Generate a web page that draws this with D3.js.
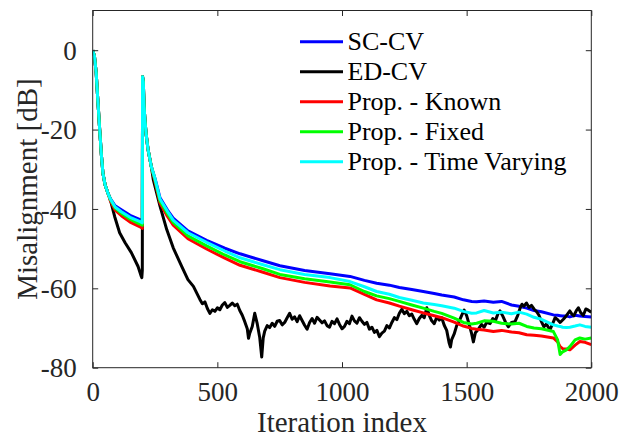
<!DOCTYPE html>
<html>
<head>
<meta charset="utf-8">
<script src="https://cdn.jsdelivr.net/npm/d3@7/dist/d3.min.js"></script>
<style>
  html, body { margin: 0; padding: 0; background: #fff; }
  svg { display: block; }
  svg text { font-family: "Liberation Serif", "Times New Roman", Times, serif !important; }
</style>
</head>
<body>
<svg id="chart" width="634" height="439"></svg>
<script>
// ---------------- data ----------------
const seriesNames = ["SC-CV", "ED-CV", "Prop. - Known", "Prop. - Fixed", "Prop. - Time Varying"];
const xTicks = [0, 500, 1000, 1500, 2000];
const yTicks = [-80, -60, -40, -20, 0];

const colIter = [0,7,14,20,25,28,35,41,50,61,70,90,115,150,190,199,200,203,206,210,215,222,235,250,270,300,323,382,457,530,591,680,751,850,952,1032,1090,1139,1190,1230,1280,1326,1370,1400,1450,1487,1520,1540,1570,1607,1640,1680,1710,1741,1770,1800,1848,1865,1875,1885,1900,1914,1935,1954,1975,2000];

const scCV = [0,-1.5,-5.7,-12,-17,-20,-26.5,-31,-34,-36,-37.3,-39.2,-40.2,-41.6,-42.7,-43,-6.7,-8,-14,-18,-21.5,-25,-29.3,-32.3,-37.2,-40.3,-42.3,-45.5,-47.9,-49.9,-51.3,-53,-54.3,-55.5,-56.3,-57,-58,-58.7,-59.2,-59.8,-60.3,-60.8,-61.3,-61.7,-62.2,-62.9,-63.3,-63.4,-63.2,-63.5,-63.3,-64.2,-64.5,-65,-65.6,-65.9,-66.7,-66.8,-66.9,-67,-67,-67.2,-66.8,-67,-67.1,-67.2];

const propTV = [0,-1.5,-5.7,-12,-17,-20,-26.5,-31,-34,-36,-37.4,-39.5,-40.7,-42.1,-43.2,-43.5,-6.7,-8,-14,-18,-21.5,-25,-29.3,-32.4,-37.5,-40.6,-42.8,-46,-48.4,-50.6,-52.3,-54,-55.3,-56.5,-57.3,-58.3,-59.6,-60.8,-61.5,-62.3,-63,-63.7,-64.1,-64.4,-65,-65.8,-66.3,-66.2,-65.6,-66.2,-66,-66.4,-66,-66.5,-67.3,-67.8,-69.2,-69.5,-69.6,-69.8,-69.9,-69.8,-69.5,-69.2,-69.6,-69.8];

const propFixed = [0,-1.5,-5.7,-12,-17,-20,-26.5,-31,-34,-36,-37.5,-39.8,-41.1,-42.6,-43.8,-44.1,-6.7,-8,-14,-18,-21.5,-25,-29.3,-32.7,-38,-41.2,-43.4,-46.8,-49.3,-51.6,-53.3,-55,-56.5,-57.6,-58.4,-59.1,-60.8,-61.9,-62.6,-63.3,-64.2,-65,-65.8,-66.3,-67.5,-68.6,-69,-68.8,-68.2,-68.3,-68.8,-69,-68.8,-69.6,-70,-70.2,-70.9,-73,-76.7,-76,-75.5,-74.7,-73,-72.5,-72.8,-72.5];

const propKnown = [0,-1.5,-5.7,-12,-17,-20,-26.5,-31,-34,-36,-37.8,-40.3,-41.7,-43.3,-44.5,-44.9,-6.7,-8,-14,-18,-21.5,-25,-29.3,-33.1,-38.5,-41.9,-44.1,-47.5,-50.1,-52.4,-54.2,-55.9,-57.3,-58.5,-59.4,-59.9,-61.5,-62.9,-63.7,-64.5,-65.4,-66.2,-66.9,-67.4,-68.5,-69.5,-70.1,-70.3,-70.5,-70.9,-70.6,-71,-71.2,-71.7,-71.8,-72,-72.5,-73.5,-74.7,-75.2,-75.3,-75.5,-74.3,-73.4,-73.6,-74.2];

const edIter = [0,7,14,20,25,28,35,41,50,61,68,88,108,130,155,182,195,197,199,200,203,206,210,215,222,235,243,270,297,323,357,382,404,
  430,440,450,460,470,480,490,500,510,520,530,540,550,560,570,580,590,600,610,620,625,630,640,650,660,670,678,684,690,700,
  710,720,730,740,750,760,770,780,790,800,810,820,830,840,850,860,870,880,890,900,910,920,930,940,950,960,970,980,990,1000,
  1010,1020,1030,1040,1050,1060,1070,1080,1090,1100,1110,1120,1130,1140,1150,1160,1170,1180,1190,1200,1210,1220,1230,1240,1250,
  1260,1270,1280,1290,1300,1310,1320,1330,1340,1350,1360,1370,1380,1390,1400,1410,1420,1430,1435,1440,1450,1460,1470,1480,1490,
  1500,1510,1520,1527,1535,1547,1560,1570,1580,1594,1605,1615,1625,1634,1645,1655,1667,1680,1694,1705,1715,1722,1730,1740,1750,
  1760,1770,1781,1790,1800,1810,1820,1834,1845,1855,1865,1875,1888,1900,1914,1922,1930,1940,1948,1958,1968,1978,1988,2000];

const edCV = [0,-1.5,-5.7,-12,-17,-20,-26.5,-31,-34,-36,-37,-41.9,-46,-48.5,-51,-54.5,-57,-57.3,-55.5,-6.7,-8,-14,-18,-21.5,-25,-29.3,-32.6,-39.3,-45.2,-49.8,-54.5,-57.8,-59.5,
  -62.8,-63.9,-63.4,-65.1,-66.3,-65.4,-65.8,-64.9,-65.4,-64.2,-63.6,-64.8,-64.3,-63.7,-64.4,-64.0,-65.6,-66.8,-68.4,-70.2,-72.6,-71.3,-69.6,-66.3,-68.9,-72.4,-77.3,-72.5,-70.8,-69.4,
  -69.9,-68.8,-69.6,-68.3,-68.1,-69.2,-68.6,-67.4,-66.3,-67.8,-67.2,-68.4,-66.9,-68.1,-69.3,-70.3,-68.6,-67.6,-68.8,-67.3,-68.0,-68.7,-68.2,-69.4,-69.8,-68.3,-68.9,-67.7,-69.1,-70.2,
  -69.6,-68.3,-68.9,-67.0,-68.2,-68.8,-67.4,-68.3,-69.1,-68.6,-70.3,-69.8,-71.1,-70.6,-72.2,-71.3,-70.8,-69.4,-70.0,-68.6,-67.4,-67.9,-66.3,-65.3,-66.4,
  -65.8,-66.9,-66.5,-67.8,-68.9,-67.6,-66.8,-67.4,-64.9,-66.8,-68.2,-68.9,-67.3,-68.0,-67.4,-69.3,-70.6,-73.8,-74.8,-72.9,-71.5,-69.4,-68.3,-66.8,-65.5,
  -66.9,-69.1,-71.4,-73.5,-71.2,-70.3,-69.1,-69.8,-68.6,-68.9,-67.6,-68.2,-66.5,-65.7,-67.0,-68.4,-69.7,-68.6,-68.4,-66.8,-64.9,-64.0,-64.5,-63.7,-64.8,
  -64.3,-65.2,-65.9,-66.8,-68.4,-69.7,-69.0,-70.5,-68.9,-67.4,-67.9,-68.6,-67.8,-66.9,-65.7,-66.5,-66.9,-65.6,-64.9,-66.2,-66.8,-65.2,-65.5,-66.0];

const seriesColors = ["#0000ff", "#000000", "#ff0000", "#00ff00", "#00ffff"];

// ---------------- layout ----------------
const FONT = '"Liberation Serif", "Times New Roman", Times, serif';
const svg = d3.select("#chart");
const L = 92.7, R = 591.3, T = 10.5, B = 367.7;
const x = d3.scaleLinear().domain([0, 2000]).range([L, R]);
const y = d3.scaleLinear().domain([-80, 10]).range([B, T]);
const axisColor = "#262626";

svg.append("rect").attr("x", 0).attr("y", 0).attr("width", 634).attr("height", 439).attr("fill", "#fff");

svg.append("defs").append("clipPath").attr("id", "clip")
  .append("rect").attr("x", L).attr("y", T).attr("width", R - L).attr("height", B - T);

const series = [
  { name: seriesNames[0], xs: colIter, ys: scCV, color: seriesColors[0] },
  { name: seriesNames[1], xs: edIter, ys: edCV, color: seriesColors[1] },
  { name: seriesNames[2], xs: colIter, ys: propKnown, color: seriesColors[2] },
  { name: seriesNames[3], xs: colIter, ys: propFixed, color: seriesColors[3] },
  { name: seriesNames[4], xs: colIter, ys: propTV, color: seriesColors[4] }
];

const line = d3.line().x(d => x(d[0])).y(d => y(d[1]));
const plot = svg.append("g").attr("clip-path", "url(#clip)");
series.forEach(s => {
  const pts = s.xs.map((v, i) => [v, s.ys[i]]);
  plot.append("path").datum(pts)
    .attr("d", line)
    .attr("fill", "none")
    .attr("stroke", s.color)
    .attr("stroke-width", 3)
    .attr("stroke-linejoin", "round");
});

// axes (ticks inside, box)
const tickLen = 5.5;
const xAxisB = d3.axisBottom(x).tickValues(xTicks).tickSizeInner(-tickLen).tickSizeOuter(0).tickFormat(d3.format("d")).tickPadding(14);
const xAxisT = d3.axisTop(x).tickValues(xTicks).tickSizeInner(-tickLen).tickSizeOuter(0).tickFormat("");
const yAxisL = d3.axisLeft(y).tickValues(yTicks).tickSizeInner(-tickLen).tickSizeOuter(0).tickFormat(d3.format("d")).tickPadding(16);
const yAxisR = d3.axisRight(y).tickValues(yTicks).tickSizeInner(-tickLen).tickSizeOuter(0).tickFormat("");

function style(g) {
  g.attr("font-family", FONT).attr("font-size", 27);
  g.select(".domain").remove();
  g.selectAll(".tick line").attr("stroke", axisColor).attr("stroke-width", 1);
  g.selectAll(".tick text").attr("fill", axisColor).attr("font-family", FONT).attr("font-size", 27);
}
svg.append("g").attr("transform", `translate(0,${B})`).call(xAxisB).call(style)
  .selectAll(".tick text").attr("dy", "0.71em");
svg.append("g").attr("transform", `translate(0,${T})`).call(xAxisT).call(style);
svg.append("g").attr("transform", `translate(${L},0)`).call(yAxisL).call(style)
  .selectAll(".tick text").attr("dy", "0.34em").text(d => String(d));
svg.append("g").attr("transform", `translate(${R},0)`).call(yAxisR).call(style);

svg.append("rect").attr("x", L).attr("y", T).attr("width", R - L).attr("height", B - T)
  .attr("fill", "none").attr("stroke", axisColor).attr("stroke-width", 1);

// axis labels
svg.append("text").attr("x", (L + R) / 2).attr("y", 432).attr("text-anchor", "middle")
  .attr("font-family", FONT).attr("font-size", 29)
  .attr("fill", axisColor).text("Iteration index");
svg.append("text").attr("transform", `translate(37,${(T + B) / 2}) rotate(-90)`).attr("text-anchor", "middle")
  .attr("font-family", FONT).attr("font-size", 29)
  .attr("fill", axisColor).text("Misalignment [dB]");

// legend
const leg = svg.append("g");
series.forEach((s, i) => {
  const yy = 41.7 + i * 30;
  leg.append("line").attr("x1", 300).attr("x2", 343).attr("y1", yy).attr("y2", yy)
    .attr("stroke", s.color).attr("stroke-width", 3);
  leg.append("text").attr("x", 347.5).attr("y", yy).attr("dy", "0.33em")
    .attr("font-family", FONT).attr("font-size", 26)
    .attr("fill", "#000").text(s.name);
});
</script>
</body>
</html>
